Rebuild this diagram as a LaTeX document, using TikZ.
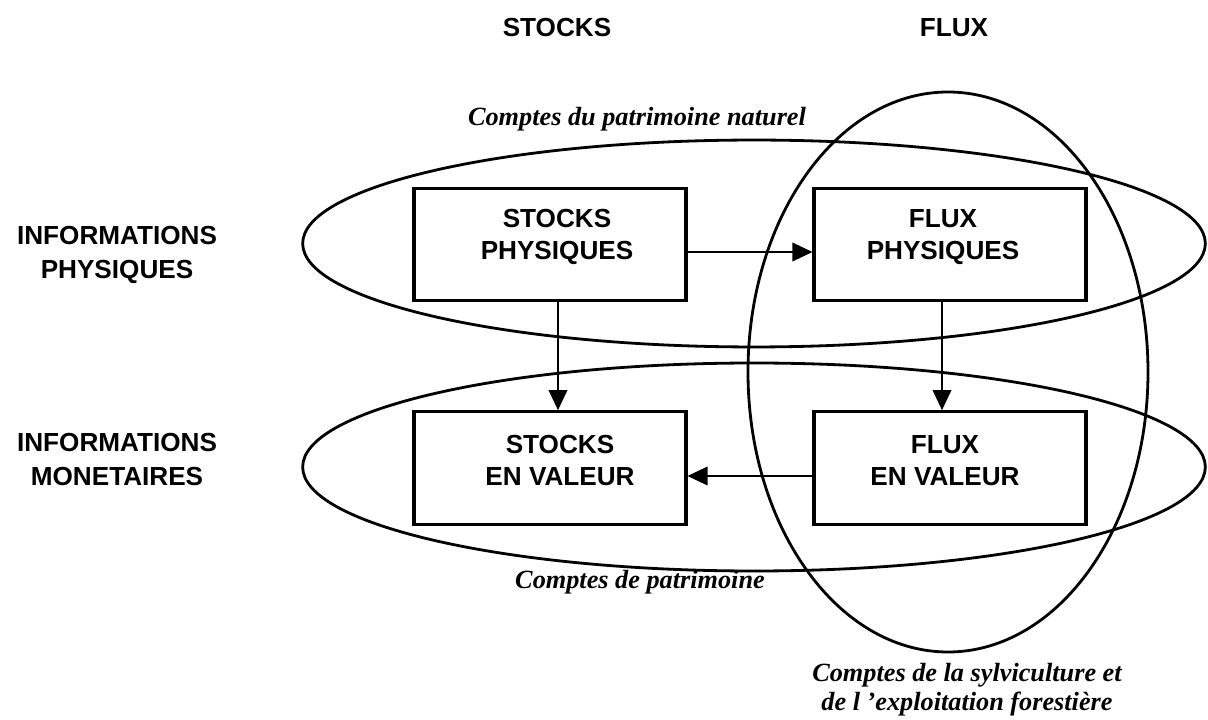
\documentclass[tikz,border=0pt]{standalone}
\usepackage{fontspec}
\setmainfont{Liberation Serif}
\setsansfont{Liberation Sans}
\usetikzlibrary{arrows.meta}
\begin{document}
\begin{tikzpicture}[x=0.75pt,y=-0.75pt,
  boxnode/.style={draw,line width=2.3pt,inner sep=0pt,minimum width=204pt,minimum height=84.5pt},
  boxtext/.style={font=\sffamily\bfseries\fontsize{19.6pt}{24pt}\selectfont,align=center,inner sep=0pt},
  rowtext/.style={font=\sffamily\bfseries\fontsize{19.6pt}{25.5pt}\selectfont,align=center,inner sep=0pt},
  grouplabel/.style={font=\rmfamily\bfseries\itshape\fontsize{19.7pt}{22pt}\selectfont,align=center,inner sep=0pt},
  groupline/.style={line width=2.1pt},
  arr/.style={line width=1pt,-{Triangle[length=15pt,width=14pt]}}]
\useasboundingbox (0,0) rectangle (1208,720);

% headers
\node[boxtext] (hstocks) at (557,28) {STOCKS};
\node[boxtext] (hflux) at (954,28) {FLUX};

% row labels
\node[rowtext] (rphys) at (117,255) {INFORMATIONS\\PHYSIQUES};
\node[rowtext] (rmon) at (117,460) {INFORMATIONS\\MONETAIRES};

% grouping ellipses
\draw[groupline] (754,243.5) ellipse [x radius=338.5pt, y radius=77.6pt];
\draw[groupline] (754,467) ellipse [x radius=338.5pt, y radius=78pt];
\draw[groupline] (948,372) ellipse [x radius=150pt, y radius=210pt];

% boxes
\node[boxnode] (sp) at (550,244.5) {};
\node[boxnode] (fp) at (950,244.5) {};
\node[boxnode] (sv) at (550,468) {};
\node[boxnode] (fv) at (950,468) {};

\node[boxtext] (tsp) at (557,237) {STOCKS\\PHYSIQUES};
\node[boxtext] (tfp) at (943,237) {FLUX\\PHYSIQUES};
\node[boxtext] (tsv) at (560,461) {STOCKS\\EN VALEUR};
\node[boxtext] (tfv) at (945,461) {FLUX\\EN VALEUR};

% arrows
\draw[arr] (sp.east |- 0,252) -- (fp.west |- 0,252);
\draw[arr] (558,0 |- sp.south) -- (558,0 |- sv.north);
\draw[arr] (942,0 |- fp.south) -- (942,0 |- fv.north);
\draw[arr] (fv.west |- 0,476) -- (sv.east |- 0,476);

% group labels
\node[grouplabel] (lnat) at (637,119) {Comptes du patrimoine naturel};
\node[grouplabel] (lpat) at (640,582) {Comptes de patrimoine};
\node[grouplabel] (lsyl) at (967,690) {Comptes de la sylviculture et\\de l ’exploitation forestière};
\end{tikzpicture}
\end{document}
